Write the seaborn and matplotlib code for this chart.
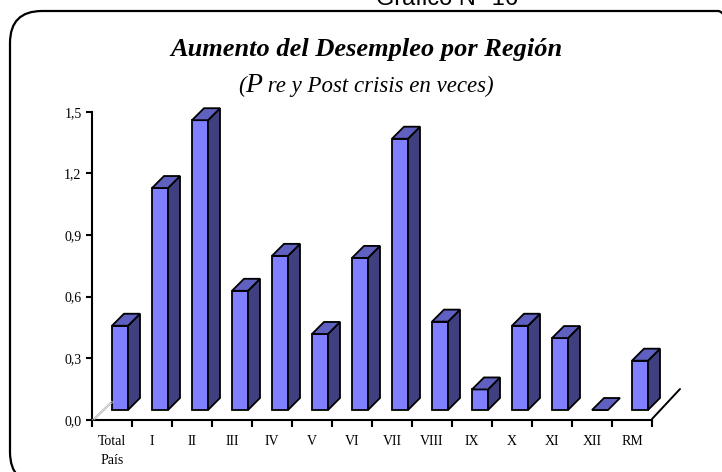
import matplotlib
matplotlib.use("Agg")
import matplotlib.pyplot as plt
from matplotlib.transforms import ScaledTranslation, IdentityTransform
from matplotlib.patches import Polygon, FancyBboxPatch
from matplotlib.lines import Line2D
import seaborn as sns
import pandas as pd

# ---- data ----
categories = ["Total\nPaís", "I", "II", "III", "IV", "V", "VI", "VII",
              "VIII", "IX", "X", "XI", "XII", "RM"]
values = [0.41, 1.08, 1.41, 0.58, 0.75, 0.37, 0.74, 1.32,
          0.43, 0.10, 0.41, 0.35, 0.00, 0.24]
yticks = [0.0, 0.3, 0.6, 0.9, 1.2, 1.5]
ytick_labels = ["0,0", "0,3", "0,6", "0,9", "1,2", "1,5"]
title = "Aumento del Desempleo por Región"
subtitle_parts = ["(", "P", " re y Post crisis en veces)"]
header = "Gráfico N° 16"

# ---- style ----
sns.set_style("white")
plt.rcParams["font.family"] = ["Liberation Serif", "DejaVu Serif"]
plt.rcParams["text.color"] = "black"
plt.rcParams["xtick.color"] = "black"
plt.rcParams["ytick.color"] = "black"
plt.rcParams["axes.labelcolor"] = "black"

W, H, DPI = 722, 472, 100
fig = plt.figure(figsize=(W / DPI, H / DPI), dpi=DPI)
fig.patch.set_facecolor("white")

ax = fig.add_axes([92 / W, (H - 420) / H, 560 / W, 308.3 / H])
df = pd.DataFrame({"region": categories, "value": values})
sns.barplot(data=df, x="region", y="value", color="#8080FF", saturation=1,
            width=0.4, edgecolor="black", linewidth=1.3, clip_on=False, ax=ax)

n = len(categories)
ax.set_xlim(-0.5, n - 0.5)
ax.set_ylim(0, 1.5)
ax.set_xlabel("")
ax.set_ylabel("")
ax.set_facecolor("none")

# spines
for s in ["top", "right"]:
    ax.spines[s].set_visible(False)
for s in ["left", "bottom"]:
    ax.spines[s].set_color("black")
    ax.spines[s].set_linewidth(1.5)

# y ticks
ax.set_yticks(yticks)
ax.set_yticklabels(ytick_labels)
ax.tick_params(axis="y", direction="out", length=4.5, width=1.5, pad=3,
               labelsize=10, color="black", labelcolor="black", left=True)

# x ticks: marks at category boundaries, labels at centers
ax.set_xticks([i - 0.5 for i in range(n + 1)])
ax.set_xticklabels([])
ax.set_xticks(list(range(n)), minor=True)
ax.set_xticklabels(categories, minor=True, fontsize=10, linespacing=1.65)
ax.tick_params(axis="x", which="major", direction="out", length=5, width=1.5,
               color="black", bottom=True)
ax.tick_params(axis="x", which="minor", length=0, pad=10.5, bottom=True,
               labelcolor="black")

# ---- 3D look ----
shift = ScaledTranslation(8 / DPI, 10 / DPI, fig.dpi_scale_trans)
T = ax.transData + shift
D = 12  # depth in pixels
bars = list(ax.patches)
for p in bars:
    p.set_transform(T)
    p.set_clip_on(False)
    p.set_zorder(3)
    x0, w, h = p.get_x(), p.get_width(), p.get_height()
    (px0, py0) = T.transform((x0, 0))
    (px1, py1) = T.transform((x0 + w, h))
    side = [(px1, py0), (px1 + D, py0 + D), (px1 + D, py1 + D), (px1, py1)]
    top = [(px0, py1), (px0 + D, py1 + D), (px1 + D, py1 + D), (px1, py1)]
    if h > 0:
        fig.add_artist(Polygon(side, closed=True, facecolor="#404080",
                               edgecolor="black", linewidth=1.3,
                               transform=IdentityTransform(), zorder=3))
    fig.add_artist(Polygon(top, closed=True, facecolor="#6060C0",
                           edgecolor="black", linewidth=1.3,
                           transform=IdentityTransform(), zorder=3))

# floor edges
lx, ly = ax.transData.transform((-0.5, 0))
for dxo in (0.0, 2.0):
    fig.add_artist(Line2D([lx + dxo, lx + 20 + dxo], [ly, ly + 19],
                          color="#b5b5b5", linewidth=0.6,
                          transform=IdentityTransform()))
rx, ry = ax.transData.transform((n - 0.5, 0))
fig.add_artist(Line2D([rx, rx + 28], [ry + 1, ry + 31], color="black",
                      linewidth=1.4, transform=IdentityTransform()))

# ---- border ----
fig.add_artist(FancyBboxPatch((10, -12), 740, H - 11 + 12,
                              boxstyle="round,pad=0,rounding_size=32",
                              facecolor="none", edgecolor="black",
                              linewidth=1.6, transform=IdentityTransform()))

# ---- texts ----
fig.text(447 / W, (H - 5) / H, header, ha="center", va="baseline",
         fontsize=17, color="black", family=["Liberation Sans", "DejaVu Sans"])
fig.text(366 / W, (H - 55.7) / H, title, ha="center", va="baseline",
         fontsize=19, fontweight="bold", style="italic", color="black")

renderer = fig.canvas.get_renderer()
sizes = [16.5, 20, 16.5]
txts = [fig.text(0, (H - 91.7) / H, s, fontsize=fs, style="italic",
                 ha="left", va="baseline", color="black")
        for s, fs in zip(subtitle_parts, sizes)]
widths = [t.get_window_extent(renderer).width for t in txts]
xpos = 366 - sum(widths) / 2
for t, wdt in zip(txts, widths):
    t.set_x(xpos / W)
    xpos += wdt

fig.savefig("out.png", dpi=DPI)
